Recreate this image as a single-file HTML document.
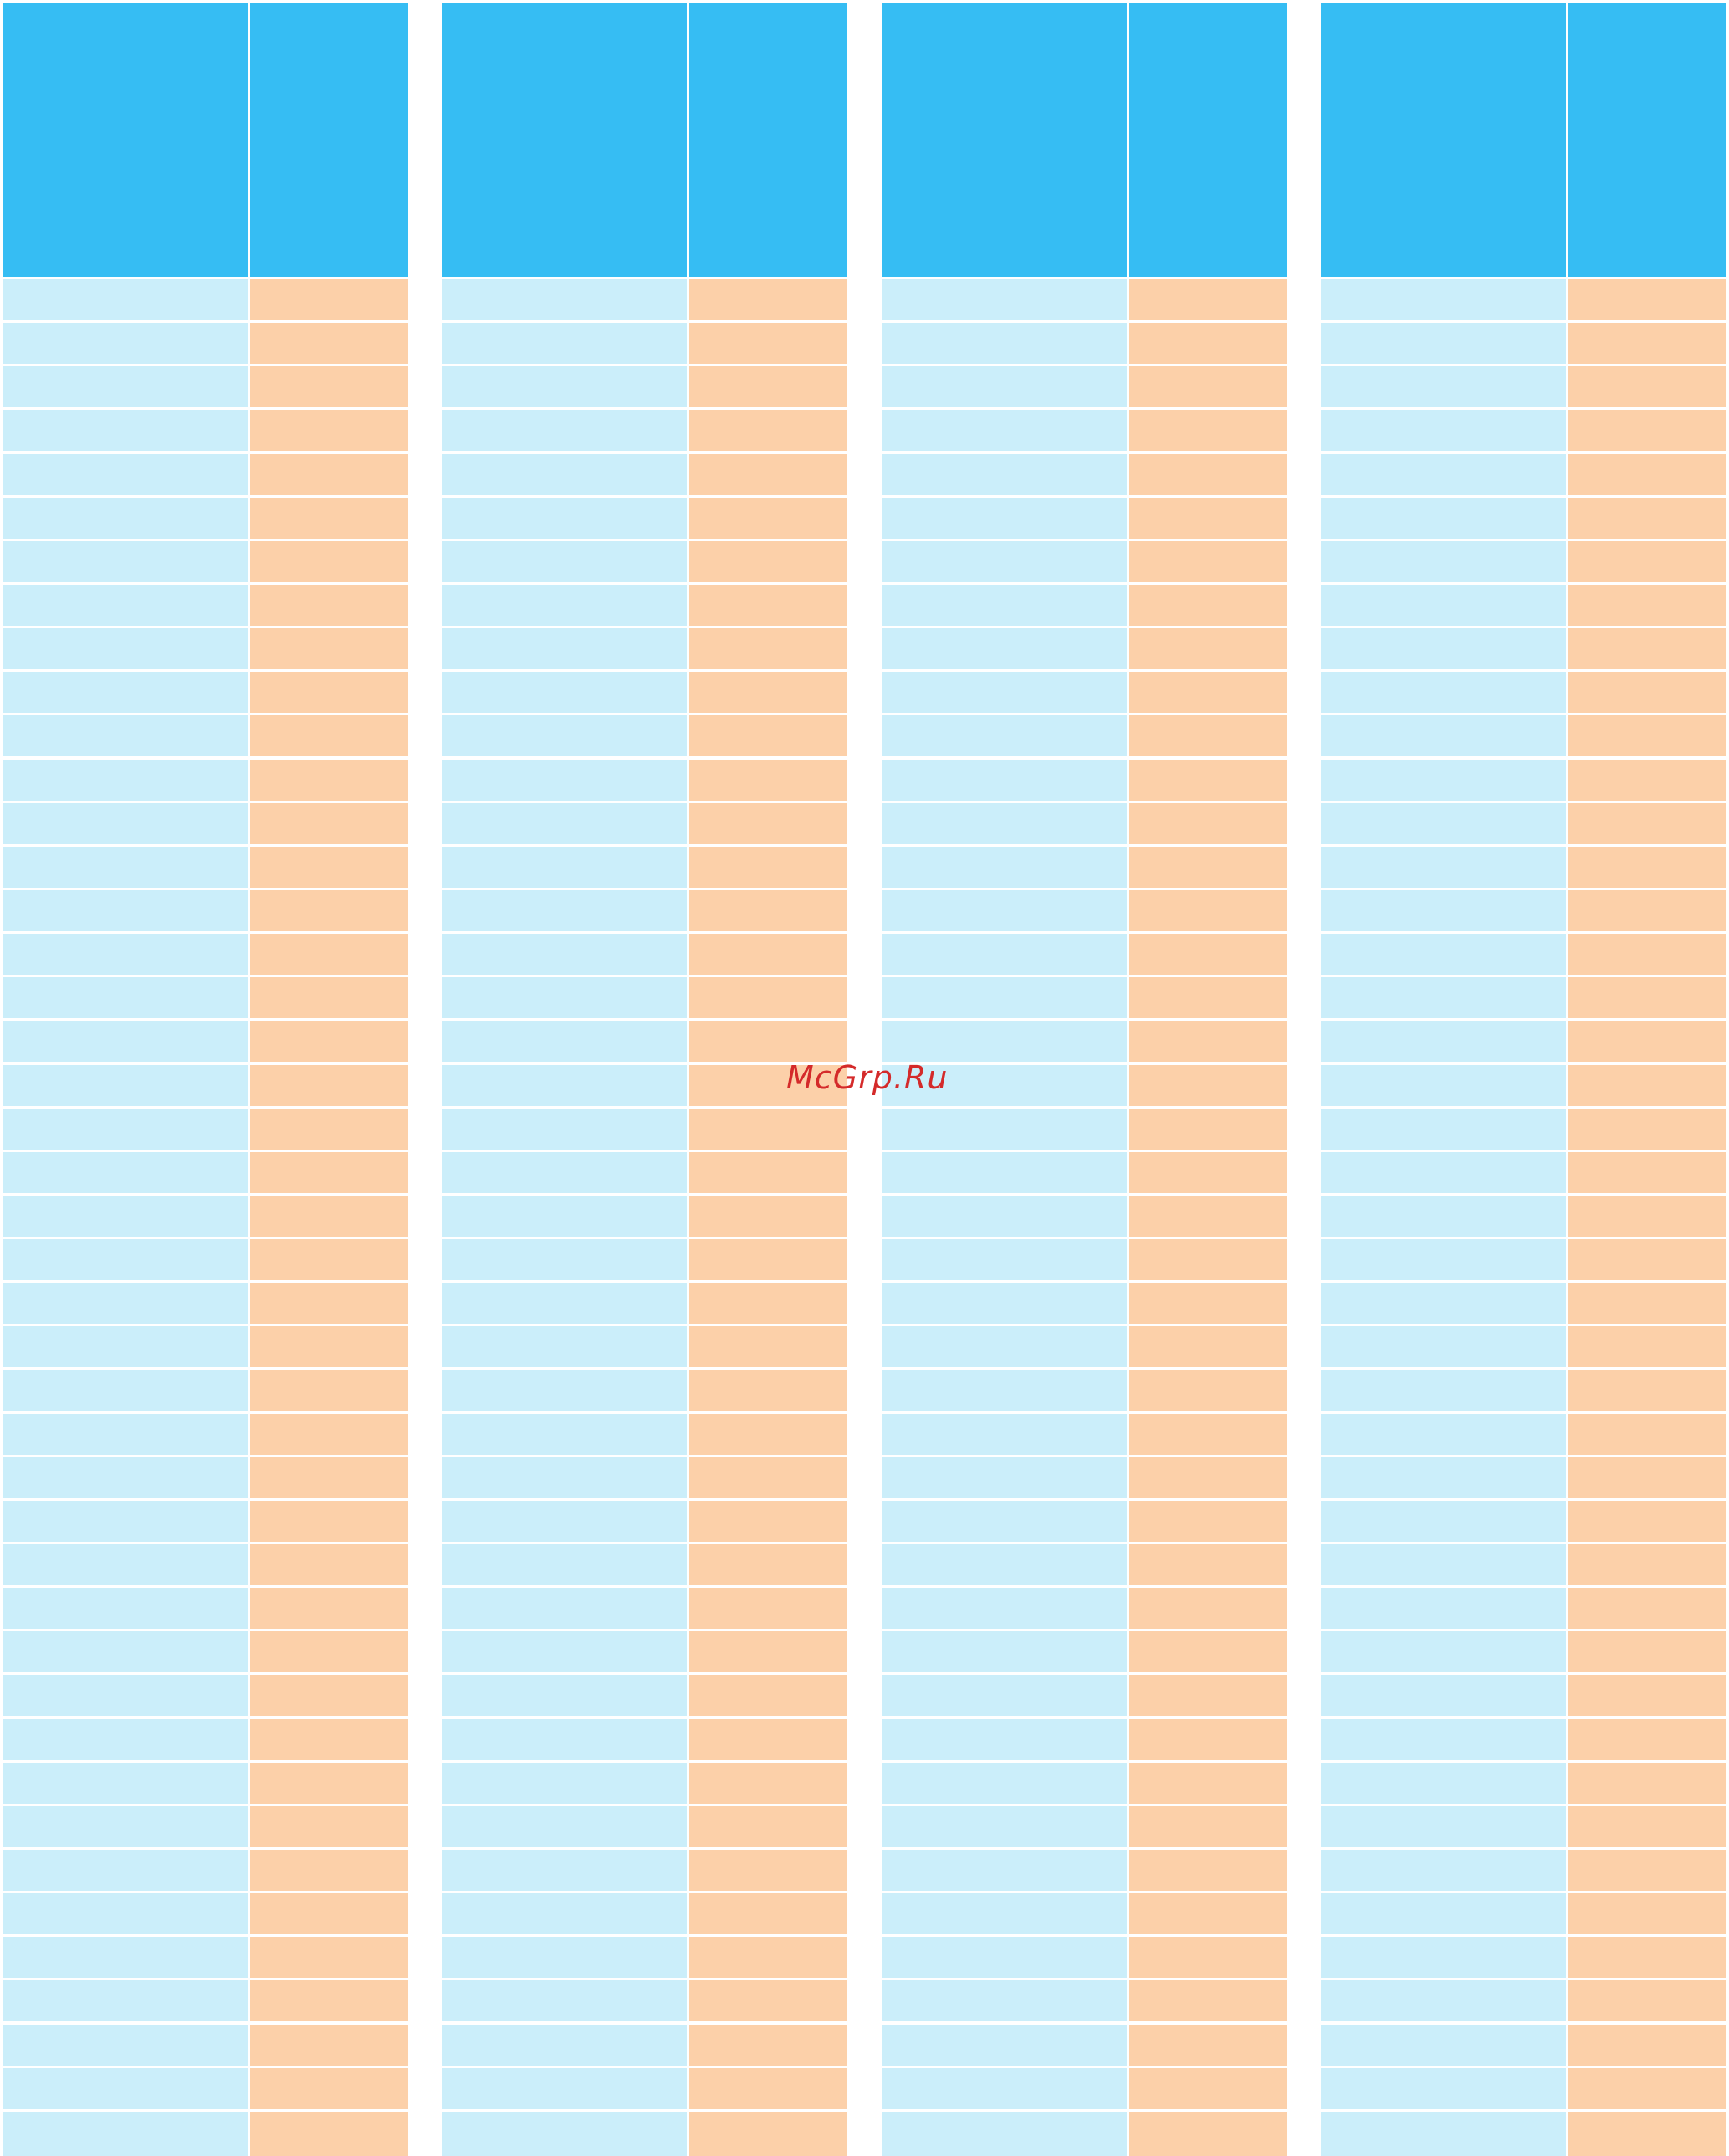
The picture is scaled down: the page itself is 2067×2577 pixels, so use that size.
<!DOCTYPE html>
<html><head><meta charset="utf-8"><style>
html,body{margin:0;padding:0;background:#fff;}
#page{position:relative;width:2067px;height:2577px;overflow:hidden;background:#fff;}
.c{position:absolute;}
.h{background:#36bdf3;}
.b{background:#cbeefa;}
.o{background:#fcd0a9;}
#wm{position:absolute;left:940px;top:1266px;font-family:"DejaVu Sans",sans-serif;font-style:italic;font-size:38px;color:#d42a2a;white-space:nowrap;letter-spacing:1px;}
</style></head><body>
<div id="page"></div>
<script>
const groupStarts=[3,528,1054,1579];
const rowCount=43;
const page=document.getElementById('page');
function cell(x,y,w,h,cls,name){
  const d=document.createElement('div');
  d.className='c '+cls;
  d.style.left=x+'px';d.style.top=y+'px';d.style.width=w+'px';d.style.height=h+'px';
  
  
  page.appendChild(d);
}
groupStarts.forEach((gx,g)=>{
  cell(gx,3,293,328,'h','header-cell');
  cell(gx+296,3,189,328,'h','header-cell');
  for(let r=0;r<rowCount;r++){
    const y=Math.round(334+r*52.14);
    const h=r===rowCount-1?60:49;
    cell(gx,y,293,h,'b','name-cell');
    cell(gx+296,y,189,h,'o','value-cell');
  }
});
const wm=document.createElement('div');
wm.id='wm';
wm.textContent='McGrp.Ru';


page.appendChild(wm);
</script>
</body></html>
